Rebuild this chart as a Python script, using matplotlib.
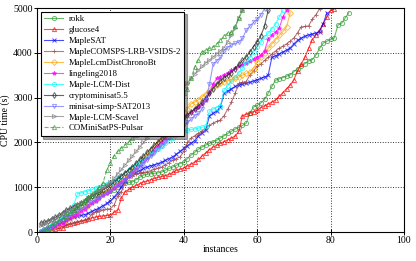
import matplotlib
matplotlib.use("Agg")
import matplotlib.pyplot as plt

plt.rcParams['font.family'] = ['Liberation Serif', 'DejaVu Serif']

# temps CPU (s) par nombre d'instances resolues (cactus plot)
rokk = [20, 60, 110, 160, 200, 250, 300, 350, 400, 450,
        520, 590, 660, 730, 800, 830, 860, 880, 900, 920,
        940, 1000, 1090, 1100, 1110, 1120, 1170, 1220, 1270, 1290,
        1300, 1310, 1320, 1340, 1380, 1420, 1450, 1490, 1530, 1560,
        1640, 1720, 1780, 1850, 1900, 1940, 1980, 2010, 2050, 2100,
        2150, 2200, 2250, 2300, 2340, 2380, 2430, 2650, 2790, 2830,
        2880, 2960, 3100, 3250, 3390, 3420, 3450, 3480, 3510, 3580,
        3650, 3700, 3760, 3820, 3850, 3950, 4100, 4220, 4260, 4300,
        4330, 4620, 4660, 4780, 4900]
glucose4 = [0, 10, 20, 40, 60, 80, 100, 150, 180, 200,
            220, 240, 260, 290, 320, 335, 350, 360, 370, 380,
            440, 500, 760, 900, 950, 1000, 1040, 1080, 1120, 1140,
            1170, 1200, 1220, 1240, 1260, 1290, 1330, 1380, 1400, 1430,
            1480, 1520, 1560, 1620, 1700, 1770, 1840, 1900, 1940, 1980,
            2020, 2060, 2100, 2140, 2250, 2600, 2630, 2660, 2690, 2720,
            2780, 2820, 2860, 2900, 2950, 3030, 3110, 3200, 3280, 3400,
            3600, 3750, 3900, 4100, 4290, 4400, 4510, 4650, 4800, 4950,
            4980]
maplesat = [0, 30, 60, 90, 130, 170, 210, 250, 290, 330,
            350, 370, 390, 420, 460, 500, 540, 590, 640, 700,
            780, 880, 1000, 1150, 1240, 1290, 1330, 1370, 1420, 1450,
            1480, 1500, 1530, 1560, 1600, 1640, 1680, 1740, 1800, 1870,
            1930, 1990, 2040, 2150, 2220, 2280, 2600, 2650, 2700, 2800,
            3100, 3150, 3200, 3250, 3280, 3300, 3320, 3340, 3370, 3400,
            3430, 3460, 3500, 3900, 3930, 3980, 4020, 4060, 4110, 4200,
            4280, 4330, 4370, 4400, 4420, 4440, 4470, 4650, 4900]
comsps = [0, 20, 40, 60, 80, 100, 130, 160, 190, 210,
          230, 250, 270, 300, 400, 450, 480, 500, 510, 520,
          600, 800, 900, 1100, 1230, 1260, 1290, 1310, 1330, 1350,
          1370, 1400, 1430, 1450, 1500, 1550, 1600, 1640, 1680, 1800,
          2000, 2100, 2150, 2200, 2260, 2320, 2380, 2430, 2470, 2500,
          2600, 2750, 2900, 3100, 3320, 3340, 3360, 3500, 3600, 3700,
          3750, 3830, 3900, 3970, 4040, 4100, 4150, 4200, 4260, 4330,
          4450, 4580, 4590, 4600, 4750, 4850, 4980]
chronobt = [0, 30, 60, 100, 140, 180, 220, 270, 320, 370,
            420, 480, 540, 600, 660, 720, 780, 840, 900, 950,
            1010, 1080, 1150, 1220, 1290, 1370, 1450, 1530, 1610, 1700,
            1790, 1880, 1970, 2060, 2150, 2250, 2350, 2450, 2550, 2650,
            2750, 2860, 2900, 2950, 3020, 3090, 3160, 3230, 3280, 3320,
            3350, 3380, 3410, 3440, 3460, 3500, 3540, 3570, 3650, 3800,
            3900, 4000, 4100, 4200, 4290, 4390, 4480, 4580, 4890]
lingeling = [0, 30, 60, 90, 130, 170, 210, 260, 310, 360,
             410, 460, 520, 580, 640, 700, 760, 820, 870, 920,
             980, 1050, 1120, 1190, 1260, 1340, 1420, 1500, 1580, 1660,
             1750, 1840, 1930, 2020, 2110, 2200, 2300, 2390, 2480, 2570,
             2620, 2680, 2740, 2790, 2850, 2950, 3100, 3300, 3430, 3470,
             3510, 3560, 3610, 3660, 3700, 3740, 3780, 3820, 3860, 3900,
             3950, 4050, 4300, 4400, 4470, 4550, 4800, 4950]
lcmdist = [0, 40, 90, 150, 210, 280, 350, 420, 500, 600,
           850, 880, 900, 920, 950, 980, 1010, 1040, 1070, 1100,
           1150, 1200, 1260, 1320, 1380, 1440, 1500, 1560, 1620, 1680,
           1740, 1800, 1860, 1920, 1980, 2040, 2100, 2160, 2210, 2250,
           2270, 2290, 2300, 2320, 2340, 2360, 2700, 2750, 2780, 2820,
           3170, 3270, 3380, 3460, 3560, 3660, 3770, 3890, 4010, 4130,
           4240, 4350, 4440, 4540, 4640, 4800, 4950]
crypto = [200, 220, 250, 290, 330, 370, 430, 490, 530, 570,
          610, 650, 700, 750, 800, 850, 890, 940, 1000, 1050,
          1110, 1180, 1250, 1320, 1390, 1460, 1540, 1620, 1700, 1780,
          1860, 1940, 2020, 2100, 2180, 2260, 2340, 2420, 2500, 2560,
          2620, 2680, 2750, 2820, 2900, 3000, 3100, 3200, 3300, 3380,
          3440, 3500, 3560, 3650, 3750, 3830, 3910, 4020, 4140, 4250,
          4380, 4600, 4950]
minisat = [0, 40, 80, 120, 170, 220, 270, 320, 370, 420,
           470, 520, 570, 620, 670, 720, 770, 820, 870, 920,
           980, 1040, 1100, 1170, 1240, 1310, 1380, 1450, 1530, 1610,
           1690, 1770, 1850, 1930, 2010, 2090, 2170, 2250, 2320, 2390,
           2450, 2520, 2600, 2650, 2750, 2950, 3300, 3750, 3820, 3900,
           4050, 4120, 4180, 4210, 4240, 4330, 4500, 4600, 4680, 4750,
           4850, 4980]
scavel = [150, 190, 230, 270, 310, 350, 400, 450, 500, 550,
          600, 650, 700, 760, 820, 880, 940, 1000, 1060, 1120,
          1200, 1300, 1400, 1500, 1600, 1700, 1800, 1900, 2000, 2100,
          2200, 2300, 2400, 2500, 2600, 2700, 2800, 2950, 3100, 3240,
          3330, 3430, 3530, 3620, 3700, 3780, 3840, 3910, 3980, 4050,
          4120, 4250, 4400, 4550, 4780, 4950]
pulsar = [0, 50, 100, 150, 200, 250, 300, 360, 430, 500,
          570, 640, 710, 780, 850, 920, 1000, 1100, 1380, 1550,
          1700, 1800, 1880, 1950, 2020, 2090, 2160, 2230, 2300, 2370,
          2440, 2510, 2580, 2650, 2720, 2790, 2860, 2930, 3000, 3100,
          3200, 3440, 3680, 3850, 4020, 4060, 4100, 4130, 4200, 4280,
          4380, 4440, 4460, 4600, 4780, 4950]

series = [
    ("rokk", rokk, "#2e9a2e", "o", "-"),
    ("glucose4", glucose4, "red", "^", "-"),
    ("MapleSAT", maplesat, "blue", "x", "-"),
    ("MapleCOMSPS-LRB-VSIDS-2", comsps, "#a04040", "+", "-"),
    ("MapleLcmDistChronoBt", chronobt, "orange", "D", "-"),
    ("lingeling2018", lingeling, "magenta", "*", "-"),
    ("Maple-LCM-Dist", lcmdist, "cyan", "o", "-"),
    ("cryptominisat5.5", crypto, "#222222", "d", "-"),
    ("minisat-simp-SAT2013", minisat, "#7070ff", "v", "-"),
    ("Maple-LCM-Scavel", scavel, "gray", ">", "-"),
    ("COMiniSatPS-Pulsar", pulsar, "#2e9a2e", "^", "--"),
]

fig = plt.figure(figsize=(4.16, 2.61), dpi=100)
ax = fig.add_axes([0.089, 0.111, 0.882, 0.858])

for nom, valeurs, couleur, marqueur, style in series:
    x = list(range(1, len(valeurs) + 1))
    filled = marqueur in ("x", "+", "*")
    ax.plot(x, valeurs, color=couleur, marker=marqueur, linestyle=style,
            linewidth=0.8, markersize=3, alpha=0.7,
            markerfacecolor=couleur if filled else "none",
            markeredgewidth=0.7, label=nom)

ax.set_xlim(0, 100)
ax.set_ylim(0, 5000)
ax.set_xticks([0, 20, 40, 60, 80, 100])
ax.set_yticks([0, 1000, 2000, 3000, 4000, 5000])
ax.grid(True, linestyle=":", color="black", linewidth=0.7, alpha=0.8)
ax.tick_params(labelsize=7, direction="inout", length=4, width=0.7, pad=1)
for s in ax.spines.values():
    s.set_linewidth(0.8)
ax.set_xlabel("instances", fontsize=7, labelpad=0)
ax.set_ylabel("CPU time (s)", fontsize=7, labelpad=2)

leg = ax.legend(loc="upper left", fontsize=6.3, handlelength=2.2,
                labelspacing=0.32, borderpad=0.4, handletextpad=0.6,
                framealpha=1, fancybox=False, edgecolor="black",
                borderaxespad=0.4, shadow=True)
leg.get_frame().set_linewidth(0.8)

fig.savefig("out.png", dpi=100)
